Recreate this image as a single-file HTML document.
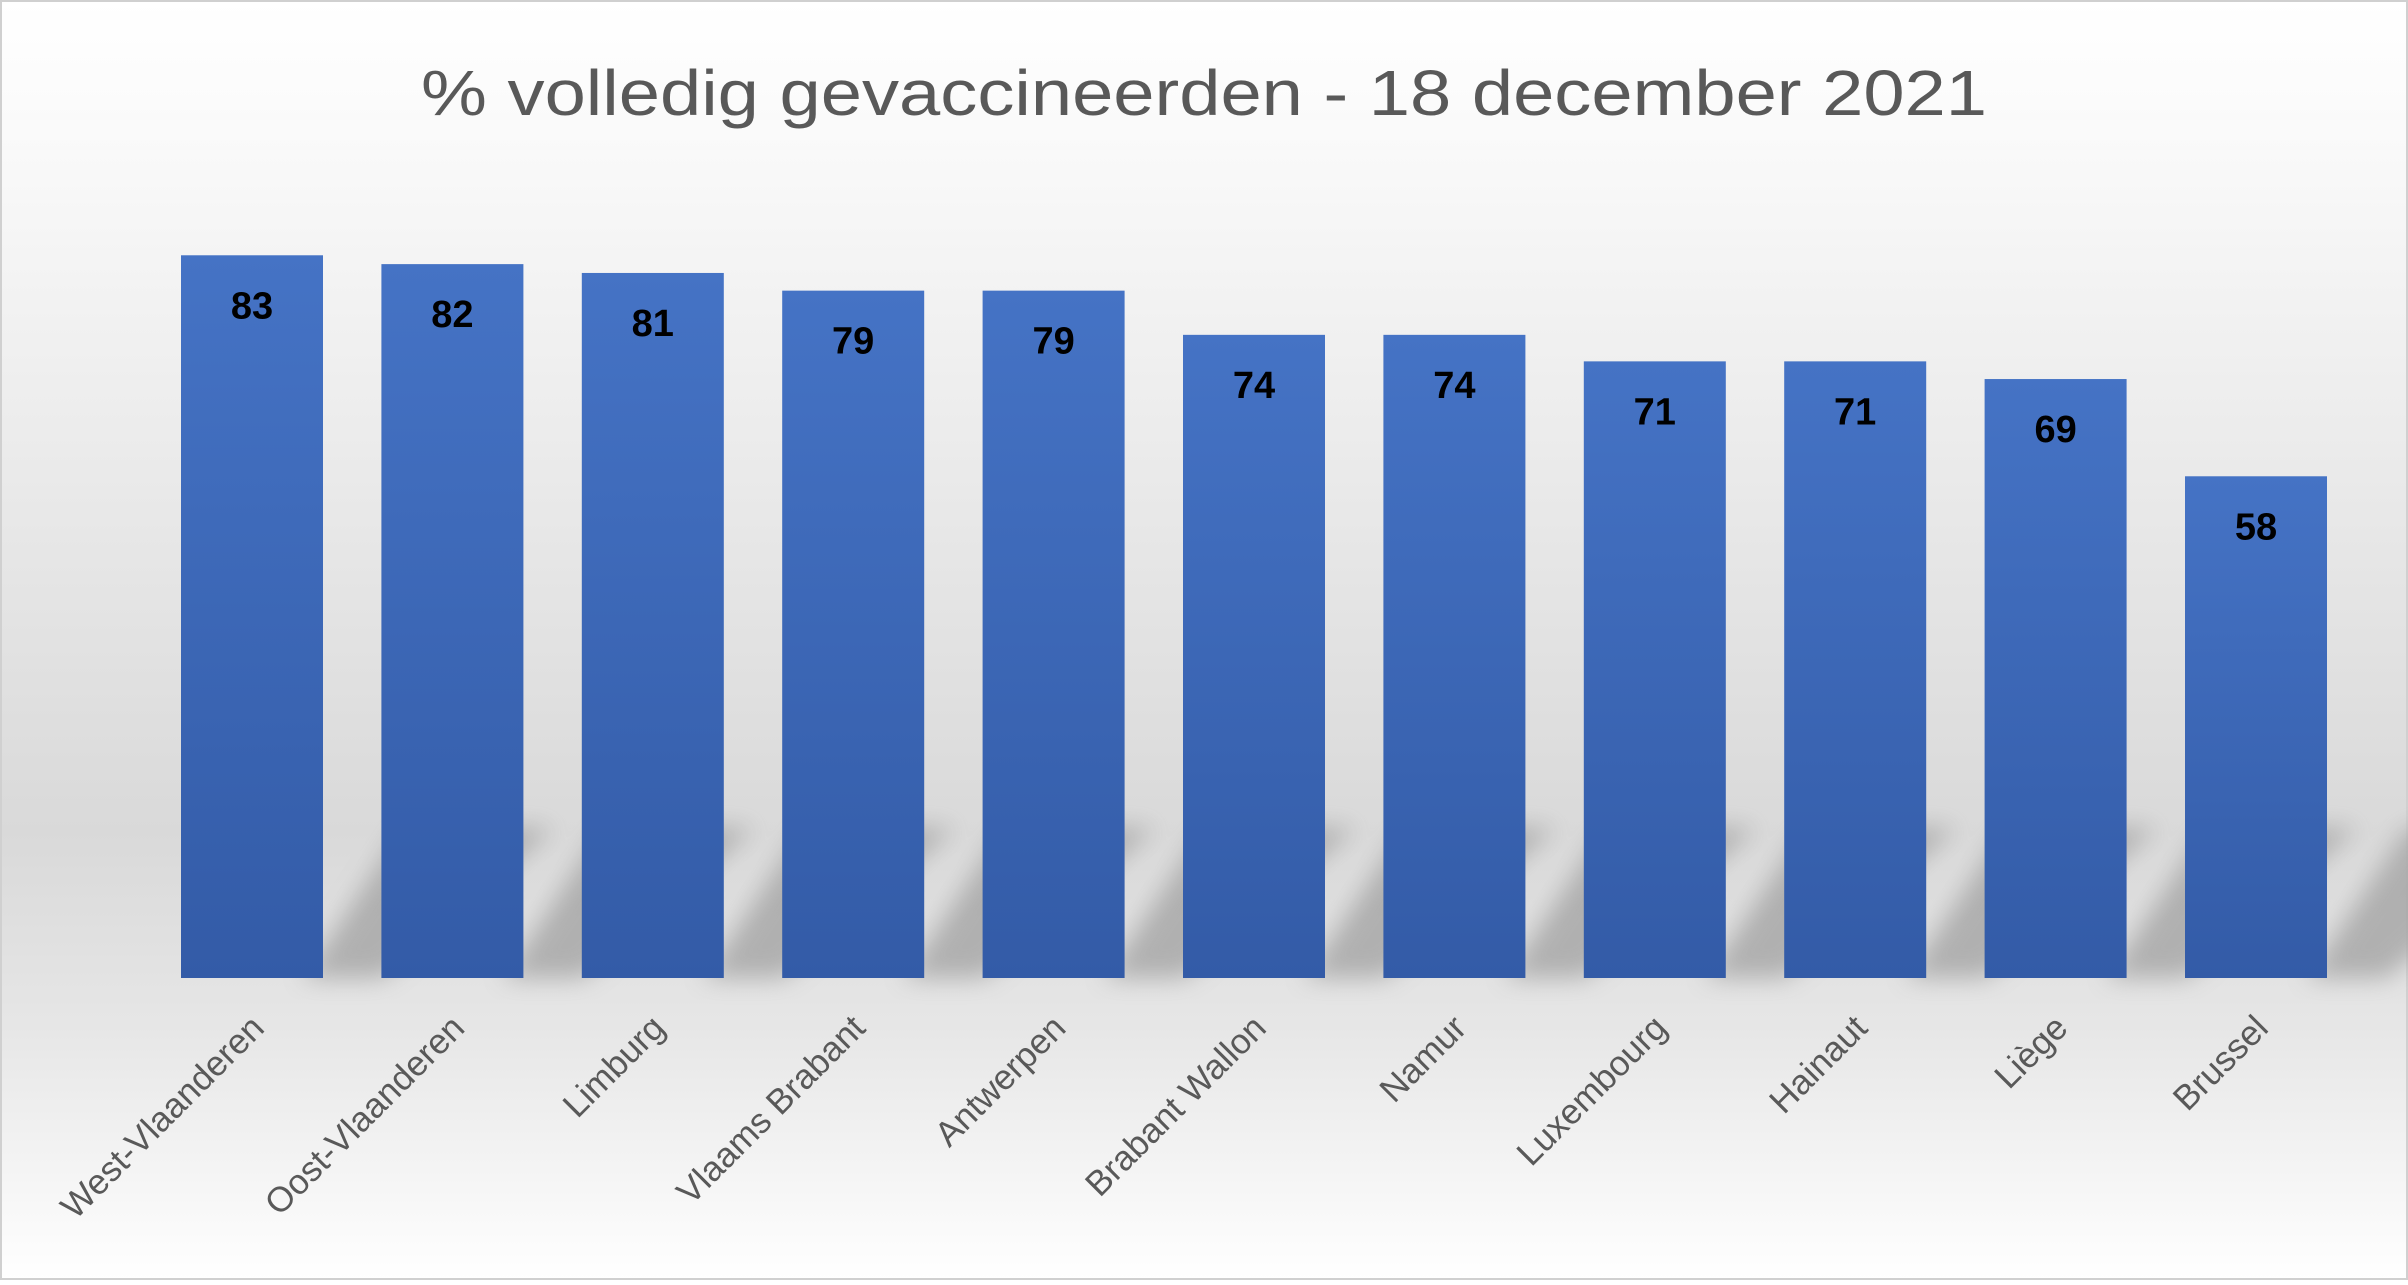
<!DOCTYPE html>
<html><head><meta charset="utf-8"><style>
html,body{margin:0;padding:0;}
body{width:2408px;height:1280px;overflow:hidden;}
</style></head><body>
<svg width="2408" height="1280" viewBox="0 0 2408 1280" xmlns="http://www.w3.org/2000/svg">
<defs>
<linearGradient id="bg" x1="0" y1="0" x2="0" y2="1">
<stop offset="0" stop-color="#ffffff"/>
<stop offset="0.12" stop-color="#f9f9f9"/>
<stop offset="0.65" stop-color="#d9d9d9"/>
<stop offset="0.8" stop-color="#e6e6e6"/>
<stop offset="1" stop-color="#ffffff"/>
</linearGradient>
<linearGradient id="bargrad" x1="0" y1="0" x2="0" y2="1">
<stop offset="0" stop-color="#4573c5"/>
<stop offset="1" stop-color="#335ba7"/>
</linearGradient>
<filter id="blur" x="-20%" y="-20%" width="140%" height="140%"><feGaussianBlur stdDeviation="12"/></filter>
</defs>
<rect x="0" y="0" width="2408" height="1280" fill="url(#bg)"/>
<rect x="1" y="1" width="2406" height="1278" fill="none" stroke="#d0d0d0" stroke-width="2"/>
<text x="1204" y="115" text-anchor="middle" font-family="Liberation Sans, sans-serif" font-size="64" fill="#595959" textLength="1566" lengthAdjust="spacingAndGlyphs">% volledig gevaccineerden - 18 december 2021</text>
<g id="shadows" fill="#a8a8a8" filter="url(#blur)" opacity="0.85"></g>
<g id="bars"></g>
<g id="vals" font-family="Liberation Sans, sans-serif" font-weight="bold" font-size="38" fill="#000" text-anchor="middle"></g>
<g id="cats" font-family="Liberation Sans, sans-serif" font-size="35" fill="#595959" text-anchor="end"></g>
</svg>
<script>
(function(){
var names=["West-Vlaanderen","Oost-Vlaanderen","Limburg","Vlaams Brabant","Antwerpen","Brabant Wallon","Namur","Luxembourg","Hainaut","Liège","Brussel"];
var vals=[83,82,81,79,79,74,74,71,71,69,58];
var ns="http://www.w3.org/2000/svg";
function el(t,a,p,txt){var e=document.createElementNS(ns,t);for(var k in a)e.setAttribute(k,a[k]);if(txt)e.textContent=txt;document.getElementById(p).appendChild(e);}
for(var i=0;i<11;i++){
 var x=181+200.4*i, w=142, ty=989-8.84*vals[i], bot=978, cx=x+w/2;
 el("polygon",{points:(x+w-20)+","+bot+" "+(x+w+60)+","+bot+" "+(x+w+230)+","+(bot-150)+" "+(x+w+80)+","+(bot-150)},"shadows");
 el("rect",{x:x,y:ty,width:w,height:bot-ty,fill:"url(#bargrad)"},"bars");
 el("text",{x:cx,y:ty+63},"vals",String(vals[i]));
 el("text",{x:cx+14,y:1030,transform:"rotate(-45 "+(cx+14)+" 1030)"},"cats",names[i]);
}
})();
</script>
</body></html>
